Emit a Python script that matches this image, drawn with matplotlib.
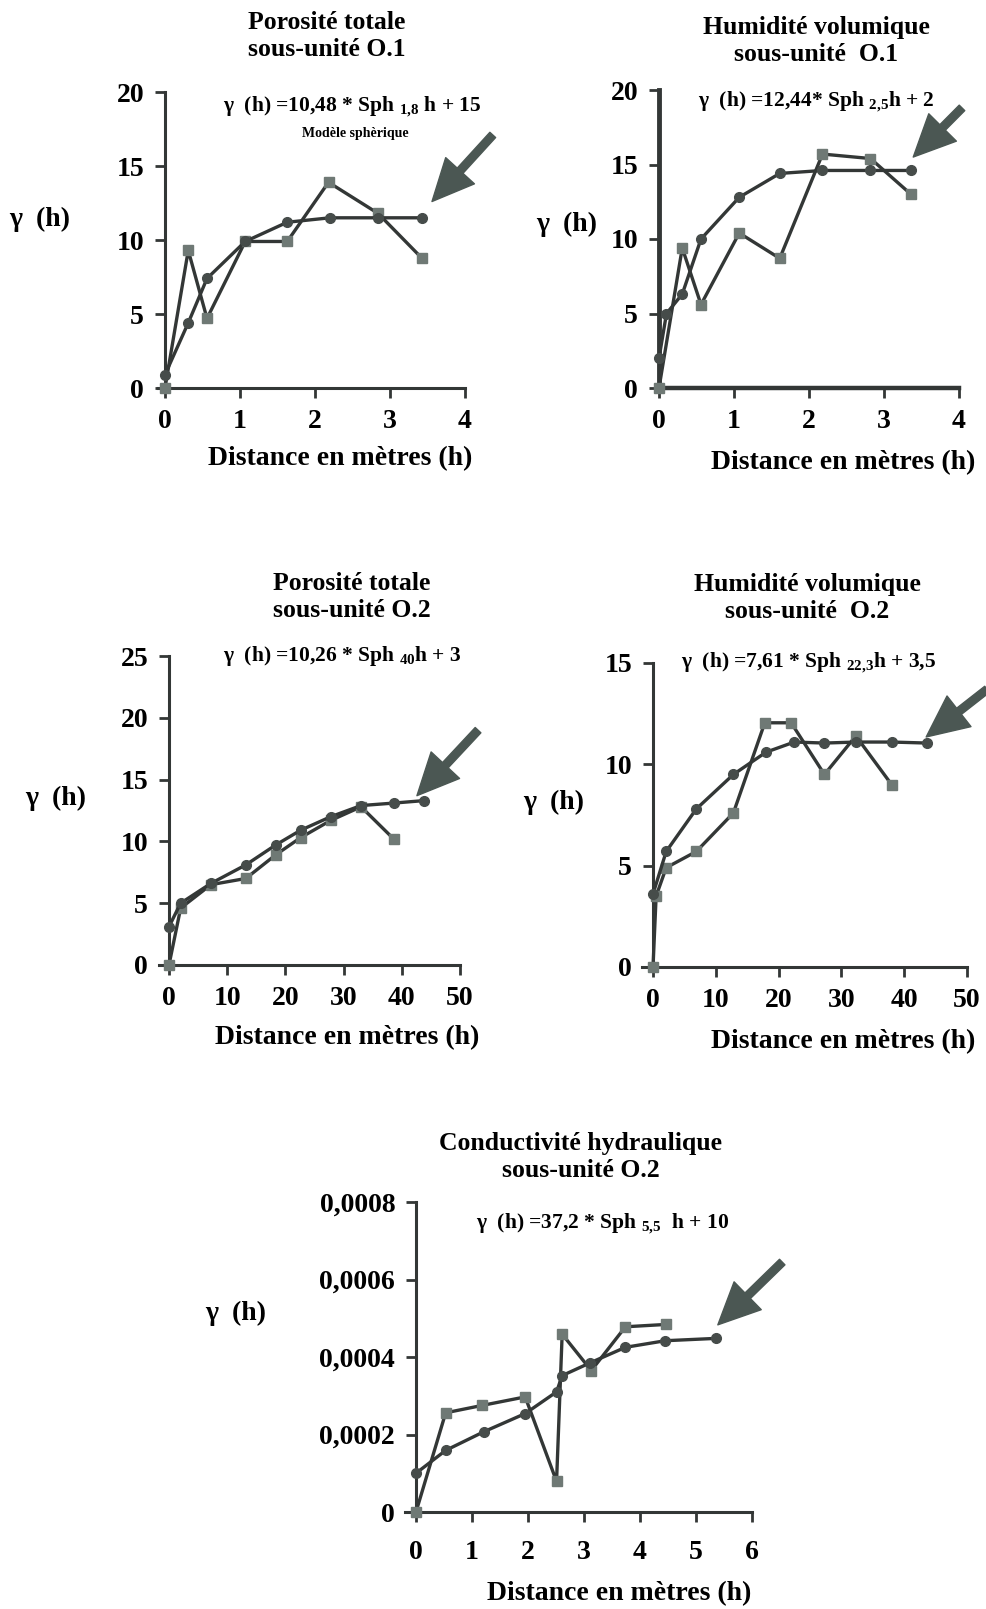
import matplotlib
matplotlib.use('Agg')
from matplotlib import pyplot as plt

plt.rcParams['font.family'] = ['Liberation Serif', 'DejaVu Serif']
plt.rcParams['font.weight'] = 'bold'
plt.rcParams['mathtext.fontset'] = 'custom'
plt.rcParams['mathtext.rm'] = 'Liberation Serif:bold'
plt.rcParams['mathtext.it'] = 'Liberation Serif:bold'
plt.rcParams['mathtext.bf'] = 'Liberation Serif:bold'

W, H = 987, 1609

# Porosité totale O.1
p1_sq_x = [0, 0.31, 0.56, 1.07, 1.63, 2.18, 2.84, 3.42]
p1_sq_y = [0, 9.3, 4.7, 9.9, 9.9, 13.9, 11.8, 8.8]
p1_ci_x = [0, 0.31, 0.56, 1.07, 1.63, 2.2, 2.84, 3.42]
p1_ci_y = [0.9, 4.4, 7.4, 9.9, 11.2, 11.5, 11.5, 11.5]

# Humidité volumique O.1
p2_sq_x = [0, 0.31, 0.56, 1.07, 1.61, 2.18, 2.82, 3.36]
p2_sq_y = [0, 9.4, 5.6, 10.4, 8.7, 15.7, 15.4, 13.0]
p2_ci_x = [0, 0.1, 0.31, 0.56, 1.07, 1.61, 2.18, 2.82, 3.36]
p2_ci_y = [2.0, 5.0, 6.3, 10.0, 12.8, 14.4, 14.6, 14.6, 14.6]

# Porosité totale O.2
p3_sq_x = [0, 2, 7.2, 13.2, 18.3, 22.6, 27.8, 33, 38.6]
p3_sq_y = [0, 4.6, 6.5, 7.0, 8.9, 10.3, 11.7, 12.8, 10.2]
p3_ci_x = [0, 2, 7.2, 13.2, 18.3, 22.6, 27.8, 33, 38.6, 43.8]
p3_ci_y = [3.1, 5.0, 6.6, 8.1, 9.7, 10.9, 12.0, 12.9, 13.1, 13.3]

# Humidité volumique O.2
p4_sq_x = [0, 0.5, 2.1, 6.9, 12.8, 17.8, 22, 27.3, 32.3, 38]
p4_sq_y = [0, 3.5, 4.9, 5.7, 7.6, 12.05, 12.05, 9.5, 11.4, 9.0]
p4_ci_x = [0, 2.1, 6.9, 12.8, 18, 22.5, 27.3, 32.4, 38, 43.6]
p4_ci_y = [3.6, 5.7, 7.8, 9.5, 10.6, 11.1, 11.05, 11.1, 11.1, 11.05]

# Conductivité hydraulique O.2
p5_sq_x = [0, 0.53, 1.18, 1.95, 2.51, 2.61, 3.13, 3.74, 4.46]
p5_sq_y = [0, 0.000256, 0.000275, 0.000297, 0.000079, 0.000459, 0.000365, 0.000478, 0.000484]
p5_ci_x = [0, 0.53, 1.21, 1.95, 2.51, 2.61, 3.11, 3.74, 4.45, 5.35]
p5_ci_y = [0.0001, 0.000159, 0.000207, 0.000254, 0.00031, 0.000352, 0.000385, 0.000425, 0.000442, 0.000448]

p5_yticks = [0, 0.0002, 0.0004, 0.0006, 0.0008]
p5_ylabels = ['0', '0,0002', '0,0004', '0,0006', '0,0008']

line_col = '#333736'
sq_col = '#6f7975'
ci_col = '#464c4a'
arrow_col = '#4b5753'

fig = plt.figure(figsize=(W / 100, H / 100), dpi=100)


def make_axes(xa, xb, pxa, pxb, ya, yb, pya, pyb, xlim, ylim):
    sx = (pxb - pxa) / (xb - xa)
    sy = (pyb - pya) / (yb - ya)
    left = pxa + (xlim[0] - xa) * sx
    right = pxa + (xlim[1] - xa) * sx
    top = pya + (ylim[1] - ya) * sy
    bottom = pya + (ylim[0] - ya) * sy
    ax = fig.add_axes([left / W, 1 - bottom / H, (right - left) / W, (bottom - top) / H])
    ax.set_xlim(xlim)
    ax.set_ylim(ylim)
    for s in ['top', 'right']:
        ax.spines[s].set_visible(False)
    for s in ['left', 'bottom']:
        ax.spines[s].set_linewidth(2.2)
        ax.spines[s].set_color(line_col)
    ax.spines['left'].set_position(('data', 0))
    ax.tick_params(direction='out', length=7, width=2, color=line_col,
                   labelsize=20, pad=8)
    ax.patch.set_alpha(0)
    return ax


def draw(ax, sx, sy, cx, cy, tail, head):
    ax.plot(sx, sy, '-', color=line_col, lw=2.4, marker='s', ms=7.5,
            mfc=sq_col, mec=sq_col, clip_on=False, zorder=3)
    ax.plot(cx, cy, '-', color=line_col, lw=2.4, marker='o', ms=7,
            mfc=ci_col, mec=ci_col, clip_on=False, zorder=4)
    ax.annotate('', xy=head, xytext=tail, annotation_clip=False,
                arrowprops=dict(arrowstyle='simple,head_length=1.5,head_width=1.4,tail_width=0.28',
                                color=arrow_col, mutation_scale=20, shrinkA=0, shrinkB=0))


def ftext(x, y, s, size, **kw):
    fig.text(x / W, 1 - y / H, s, ha='center', va='center', fontsize=size, **kw)


TS = 18.5   # titles
ES = 15.5   # equations
LS = 20     # axis labels

# panel 1
ax1 = make_axes(0, 4, 165, 465, 0, 20, 388, 92, (-0.1, 4.0), (0, 20))
ax1.set_xticks([0, 1, 2, 3, 4])
ax1.set_yticks([0, 5, 10, 15, 20])
draw(ax1, p1_sq_x, p1_sq_y, p1_ci_x, p1_ci_y, (4.37, 17.1), (3.56, 12.6))
ftext(327, 36, 'Porosité totale\nsous-unité O.1', TS, linespacing=1.2)
ftext(352, 107, r'γ  (h) =10,48 * Sph $_{1{,}8}$ h + 15', ES)
ftext(355, 134, 'Modèle sphèrique', 10)
ftext(40, 219, 'γ  (h)', LS)
ftext(340, 459, 'Distance en mètres (h)', LS)

# panel 2
ax2 = make_axes(0, 4, 659, 959, 0, 20, 388, 90, (-0.03, 4.0), (0, 20))
ax2.set_xticks([0, 1, 2, 3, 4])
ax2.set_yticks([0, 5, 10, 15, 20])
ax2.spines['left'].set_linewidth(3.5)
ax2.spines['bottom'].set_linewidth(3.2)
draw(ax2, p2_sq_x, p2_sq_y, p2_ci_x, p2_ci_y, (4.04, 18.8), (3.39, 15.5))
ftext(816, 41, 'Humidité volumique\nsous-unité  O.1', TS, linespacing=1.2)
ftext(816, 102, r'γ  (h) =12,44* Sph $_{2{,}5}$h + 2', ES)
ftext(567, 224, 'γ  (h)', LS)
ftext(843, 463, 'Distance en mètres (h)', LS)

# panel 3
ax3 = make_axes(0, 50, 169, 460, 0, 25, 965, 656, (-1.8, 50), (0, 25))
ax3.set_xticks([0, 10, 20, 30, 40, 50])
ax3.set_yticks([0, 5, 10, 15, 20, 25])
draw(ax3, p3_sq_x, p3_sq_y, p3_ci_x, p3_ci_y, (53.1, 19.0), (42.6, 13.7))
ftext(352, 597, 'Porosité totale\nsous-unité O.2', TS, linespacing=1.2)
ftext(342, 656, r'γ  (h) =10,26 * Sph $_{40}$h + 3', ES)
ftext(56, 798, 'γ  (h)', LS)
ftext(347, 1038, 'Distance en mètres (h)', LS)

# panel 4
ax4 = make_axes(0, 50, 653, 967, 0, 15, 967, 663, (-1.8, 50), (0, 15))
ax4.set_xticks([0, 10, 20, 30, 40, 50])
ax4.set_yticks([0, 5, 10, 15])
draw(ax4, p4_sq_x, p4_sq_y, p4_ci_x, p4_ci_y, (53.2, 13.7), (43.5, 11.35))
ftext(807, 598, 'Humidité volumique\nsous-unité  O.2', TS, linespacing=1.2)
ftext(809, 663, r'γ  (h) =7,61 * Sph $_{22{,}3}$h + 3,5', ES)
ftext(554, 802, 'γ  (h)', LS)
ftext(843, 1042, 'Distance en mètres (h)', LS)

# panel 5
ax5 = make_axes(0, 6, 416, 752, 0, 0.0008, 1512, 1202, (-0.2, 6), (0, 0.0008))
ax5.set_xticks([0, 1, 2, 3, 4, 5, 6])
ax5.set_yticks(p5_yticks)
ax5.set_yticklabels(p5_ylabels)
ax5.tick_params(axis='x', pad=13)
draw(ax5, p5_sq_x, p5_sq_y, p5_ci_x, p5_ci_y, (6.54, 0.000645), (5.39, 0.000483))
ftext(581, 1157, 'Conductivité hydraulique\nsous-unité O.2', TS, linespacing=1.2)
ftext(603, 1224, r'γ  (h) =37,2 * Sph $_{5{,}5}$  h + 10', ES)
ftext(236, 1313, 'γ  (h)', LS)
ftext(619, 1594, 'Distance en mètres (h)', LS)

fig.savefig('out.png', dpi=100)
